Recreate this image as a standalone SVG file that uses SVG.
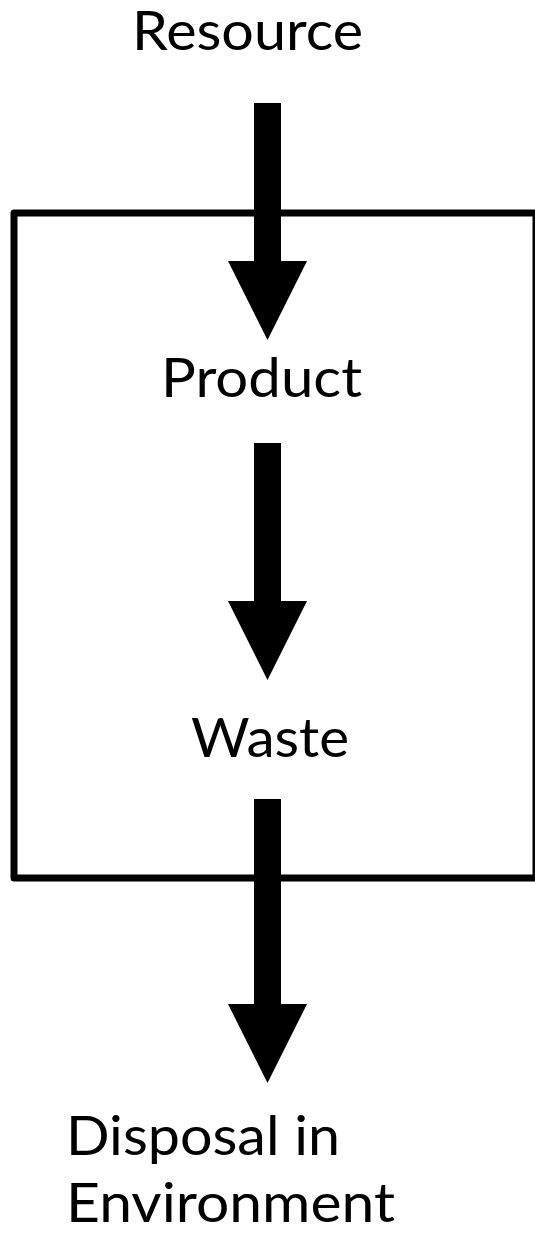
<svg xmlns="http://www.w3.org/2000/svg" width="535" height="1241" viewBox="0 0 535 1241">
  <style>
    .label { font-family: "Lato", "Open Sans", "Liberation Sans", sans-serif; font-size: 54px; fill: #000; }
    .frame { fill: none; stroke: #000; stroke-width: 7; stroke-linejoin: round; }
    .flow { fill: #000; stroke: none; }
  </style>
  <rect width="535" height="1241" fill="#fff"/>

  <!-- system boundary -->
  <g id="system-box">
    <rect class="frame" x="14" y="213" width="522" height="665"/>
  </g>

  <!-- nodes -->
  <g id="node-resource">
    <text class="label" x="132" y="50" textLength="231" lengthAdjust="spacingAndGlyphs">Resource</text>
  </g>
  <g id="node-product">
    <text class="label" x="161" y="397" textLength="201" lengthAdjust="spacingAndGlyphs">Product</text>
  </g>
  <g id="node-waste">
    <text class="label" x="191" y="757" textLength="158" lengthAdjust="spacingAndGlyphs">Waste</text>
  </g>
  <g id="node-disposal">
    <text class="label" x="66" y="1155" textLength="274" lengthAdjust="spacingAndGlyphs">Disposal in</text>
    <text class="label" x="66" y="1222" textLength="329" lengthAdjust="spacingAndGlyphs">Environment</text>
  </g>

  <!-- connectors: thick block arrows -->
  <g id="connectors">
    <polygon class="flow" points="254,103 281,103 281,261 307,261 267.5,340 228,261 254,261"/>
    <polygon class="flow" points="254,443 281,443 281,601 307,601 267.5,680 228,601 254,601"/>
    <polygon class="flow" points="254,799 281,799 281,1004 307,1004 267.5,1083 228,1004 254,1004"/>
  </g>
</svg>
